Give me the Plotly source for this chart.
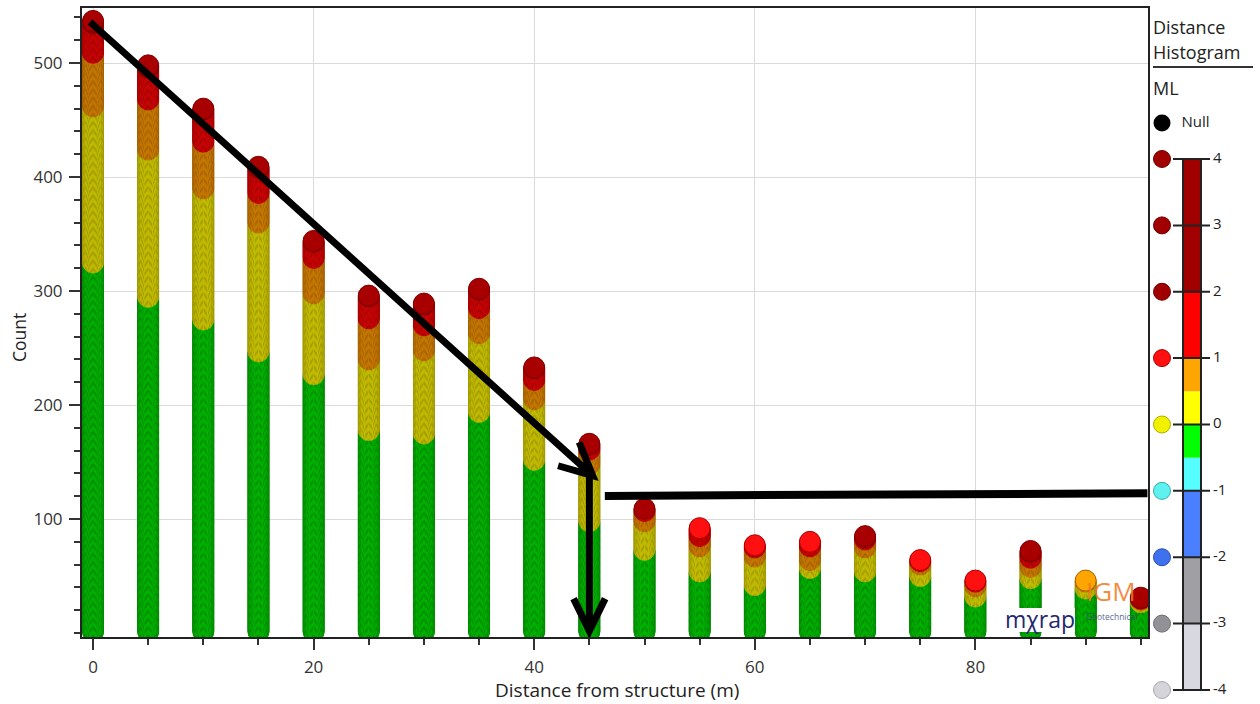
import math
import plotly.graph_objects as go

# ---------------------------------------------------------------------------
# Event counts per distance bin, split by magnitude (ML) class
# ---------------------------------------------------------------------------
DIST = [0, 5, 10, 15, 20, 25, 30, 35, 40, 45, 50, 55, 60, 65, 70, 75, 80, 85, 90, 95]
ML_GREEN = [324, 294, 274, 246, 226, 177, 174, 193, 151, 97, 72, 53, 41, 56, 53, 49, 31, 47, 38, 26]   # -0.5 .. 0
ML_YELLOW = [137, 129, 115, 113, 71, 62, 73, 69, 53, 50, 25, 22, 25, 7, 21, 10, 9, 10, 6, 2]          # 0 .. 0.5
ML_ORANGE = [47, 44, 41, 26, 31, 36, 22, 22, 17, 13, 9, 9, 8, 12, 7, 3, 4, 8, 2, 1]                    # 0.5 .. 1
ML_RED = [26, 28, 28, 22, 14, 19, 18, 16, 10, 4, 2, 8, 3, 5, 2, 2, 2, 5, 0, 0]                          # 1 .. 2
ML_DARKRED = [3, 3, 2, 2, 2, 2, 2, 2, 2, 2, 1, 0, 0, 0, 2, 0, 0, 2, 0, 2]                               # 2 .. 4

BIN_COUNTS = [ML_GREEN, ML_YELLOW, ML_ORANGE, ML_RED, ML_DARKRED]
BIN_NAMES = ["-0.5 to 0", "0 to 0.5", "0.5 to 1", "1 to 2", "2 to 4"]
BIN_FILL = ["#00ff00", "#ffff00", "#ffa500", "#ff1010", "#a80000"]
BIN_EDGE = ["rgb(0,136,0)", "rgb(160,152,0)", "rgb(165,96,0)", "rgb(168,0,0)", "rgb(130,0,0)"]

# Discrete ML colour scale shown at the right
SCALE_EDGES = [-4, -3, -2, -1, -0.5, 0, 0.5, 1, 2, 4]
SCALE_COLORS = ["#d8d8e0", "#a0a0a4", "#4a80ff", "#55ffff", "#00ff00",
                "#ffff00", "#ffa500", "#ff0000", "#a00000"]
SCALE_TICKS = [4, 3, 2, 1, 0, -1, -2, -3, -4]
TICK_DOT_COLORS = ["#a00000", "#a00000", "#a00000", "#ff1010", "#f0f000",
                   "#5ff0f0", "#3f70ee", "#929296", "#d4d4da"]
TICK_DOT_EDGES = ["#700000", "#700000", "#700000", "#b00000", "#b0b000",
                  "#30b0b0", "#2a50b0", "#707074", "#a8a8b0"]

X_TICKS = [0, 20, 40, 60, 80]
Y_TICKS = [100, 200, 300, 400, 500]

# ---------------------------------------------------------------------------
# Page geometry
# ---------------------------------------------------------------------------
W, H = 1260, 704
M_L, M_T = 82, 8
PLOT_R, PLOT_B = 1148, 637
PAPER_W = W - M_L
PAPER_H = H - M_T
X_RANGE = [-1.0, 95.65]
Y_RANGE = [-3.5, 548.3]
LEG_Y_RANGE = [-4.211, 6.275]
FONT = "Open Sans"


def paper_x(px):
    return (px - M_L) / PAPER_W


def paper_y(py):
    return (H - py) / PAPER_H


def leg_y(py):
    """Pixel row -> value on the legend axis."""
    return LEG_Y_RANGE[1] - (py - M_T) / (H - M_T) * (LEG_Y_RANGE[1] - LEG_Y_RANGE[0])


def to_px(x, y):
    px = M_L + (x - X_RANGE[0]) / (X_RANGE[1] - X_RANGE[0]) * (PLOT_R - M_L)
    py = PLOT_B - (y - Y_RANGE[0]) / (Y_RANGE[1] - Y_RANGE[0]) * (PLOT_B - M_T)
    return px, py


def to_data(px, py):
    x = X_RANGE[0] + (px - M_L) / (PLOT_R - M_L) * (X_RANGE[1] - X_RANGE[0])
    y = Y_RANGE[0] + (PLOT_B - py) / (PLOT_B - M_T) * (Y_RANGE[1] - Y_RANGE[0])
    return x, y


fig = go.Figure()

# ---------------------------------------------------------------------------
# Stacked event dots: one dot per event, stacked upward in ML order
# ---------------------------------------------------------------------------
base = [0] * len(DIST)
for counts, name, fill, edge in zip(BIN_COUNTS, BIN_NAMES, BIN_FILL, BIN_EDGE):
    xs, ys = [], []
    for i, d in enumerate(DIST):
        for k in range(counts[i]):
            xs.append(d)
            ys.append(base[i] + k + 1)
        base[i] += counts[i]
    fig.add_trace(go.Scatter(
        x=xs, y=ys, mode="markers", name=name, showlegend=False, hoverinfo="skip",
        marker=dict(size=21, color=fill, line=dict(color=edge, width=1)),
    ))

# ---------------------------------------------------------------------------
# Colour scale legend (own axes on the right)
# ---------------------------------------------------------------------------
bar_lo = SCALE_EDGES[:-1]
bar_h = [b - a for a, b in zip(SCALE_EDGES[:-1], SCALE_EDGES[1:])]
fig.add_trace(go.Bar(
    x=[44] * len(bar_lo), y=bar_h, base=bar_lo, width=18,
    marker=dict(color=SCALE_COLORS, line=dict(width=0)),
    xaxis="x2", yaxis="y2", showlegend=False, hoverinfo="skip",
))
fig.add_trace(go.Scatter(
    x=[14] * len(SCALE_TICKS), y=SCALE_TICKS, mode="markers",
    marker=dict(size=17, color=TICK_DOT_COLORS, line=dict(color=TICK_DOT_EDGES, width=1)),
    xaxis="x2", yaxis="y2", showlegend=False, hoverinfo="skip", cliponaxis=False,
))
fig.add_trace(go.Scatter(
    x=[65] * len(SCALE_TICKS), y=SCALE_TICKS, mode="text",
    text=[str(t) for t in SCALE_TICKS], textposition="middle right",
    textfont=dict(family=FONT, size=15, color="#222222"),
    xaxis="x2", yaxis="y2", showlegend=False, hoverinfo="skip", cliponaxis=False,
))
# Null entry
null_y = leg_y(123)
fig.add_trace(go.Scatter(
    x=[14], y=[null_y], mode="markers+text", text=["  Null"], textposition="middle right",
    textfont=dict(family=FONT, size=15, color="#222222"),
    marker=dict(size=17, color="#000000"),
    xaxis="x2", yaxis="y2", showlegend=False, hoverinfo="skip", cliponaxis=False,
))

shapes = []
shapes.append(dict(type="rect", xref="x2", yref="y2", x0=35, x1=53,
                   y0=SCALE_EDGES[0], y1=SCALE_EDGES[-1],
                   line=dict(color="#222222", width=2), layer="above"))
for t in SCALE_TICKS:
    shapes.append(dict(type="line", xref="x2", yref="y2", x0=25, x1=62, y0=t, y1=t,
                       line=dict(color="#222222", width=2), layer="above"))
# underline below the legend title
shapes.append(dict(type="line", xref="paper", yref="paper",
                   x0=paper_x(1153), x1=paper_x(1253), y0=paper_y(67), y1=paper_y(67),
                   line=dict(color="#333333", width=2)))


# ---------------------------------------------------------------------------
# Hand-drawn style arrows and reference line
# ---------------------------------------------------------------------------
def arrow_path(tail, tip, head_len=36, half_angle=26):
    tx, ty = to_px(*tail)
    hx, hy = to_px(*tip)
    ang = math.atan2(ty - hy, tx - hx)
    arms = []
    for s in (-1, 1):
        a = ang + s * math.radians(half_angle)
        arms.append(to_data(hx + head_len * math.cos(a), hy + head_len * math.sin(a)))
    return (f"M {tail[0]},{tail[1]} L {tip[0]},{tip[1]} "
            f"M {arms[0][0]},{arms[0][1]} L {tip[0]},{tip[1]} L {arms[1][0]},{arms[1][1]}")


ARROW_1 = ((-0.27, 536.0), (45.3, 138.0))
ARROW_2 = ((45.0, 137.0), (45.0, 1.8))
LEVEL_LINE = ((46.4, 120.3), (95.6, 122.6))

for tail, tip in (ARROW_1, ARROW_2):
    shapes.append(dict(type="path", xref="x", yref="y", path=arrow_path(tail, tip),
                       line=dict(color="#000000", width=7), layer="above"))
shapes.append(dict(type="line", xref="x", yref="y",
                   x0=LEVEL_LINE[0][0], y0=LEVEL_LINE[0][1],
                   x1=LEVEL_LINE[1][0], y1=LEVEL_LINE[1][1],
                   line=dict(color="#000000", width=8), layer="above"))

# white backing of the mXrap logo
shapes.append(dict(type="rect", xref="paper", yref="paper",
                   x0=paper_x(1005), x1=paper_x(1075), y0=paper_y(632), y1=paper_y(608),
                   fillcolor="#ffffff", line=dict(width=0), layer="above"))


# ---------------------------------------------------------------------------
# Text
# ---------------------------------------------------------------------------
def label(text, px, py, size, color="#222222", xanchor="center", **kw):
    return dict(text=text, xref="paper", yref="paper", x=paper_x(px), y=paper_y(py),
                xanchor=xanchor, yanchor="middle", showarrow=False,
                font=dict(family=FONT, size=size, color=color), **kw)


annotations = [
    label("Distance from structure (m)", 617, 690, 19),
    label("Count", 19, 338, 17.5, textangle=-90),
    label("Distance", 1151, 27, 18, xanchor="left"),
    label("Histogram", 1151, 52, 18, xanchor="left"),
    label("ML", 1151, 88, 18, xanchor="left"),
    # logos
    label("mχrap", 1040, 619, 23, color="#26286e"),
    label("IGM", 1111, 591, 26, color="#f07a1e", opacity=0.85),
    label("Geotechnical", 1111, 616, 8.5, color="#34457a", opacity=0.8),
]

axis_common = dict(
    showline=True, linecolor="#222222", linewidth=2, mirror=True,
    ticks="outside", tickcolor="#333333", tickwidth=2,
    tickfont=dict(family=FONT, size=17, color="#333333"),
    showgrid=True, gridcolor="#dadada", gridwidth=1, zeroline=False,
)

fig.update_layout(
    width=W, height=H,
    margin=dict(l=M_L, r=0, t=M_T, b=0, autoexpand=False),
    paper_bgcolor="#ffffff", plot_bgcolor="#ffffff",
    showlegend=False,
    xaxis=dict(domain=[0, paper_x(PLOT_R)], range=X_RANGE, tickmode="array",
               tickvals=X_TICKS, ticklen=11, ticklabelstandoff=3,
               minor=dict(tick0=0, dtick=5, ticks="outside", ticklen=6,
                          tickcolor="#333333", tickwidth=2, showgrid=False),
               automargin=False, **axis_common),
    yaxis=dict(domain=[paper_y(PLOT_B), 1], range=Y_RANGE, tickmode="array",
               tickvals=Y_TICKS, ticklen=11, ticklabelstandoff=3,
               minor=dict(tick0=0, dtick=20, ticks="outside", ticklen=6,
                          tickcolor="#333333", tickwidth=2, showgrid=False),
               automargin=False, **axis_common),
    xaxis2=dict(domain=[paper_x(PLOT_R), 1], range=[0, W - PLOT_R], visible=False,
                anchor="y2", fixedrange=True),
    yaxis2=dict(domain=[0, 1], range=LEG_Y_RANGE, visible=False, anchor="x2",
                fixedrange=True),
    shapes=shapes,
    annotations=annotations,
    font=dict(family=FONT),
)

fig.write_html("out.html")
